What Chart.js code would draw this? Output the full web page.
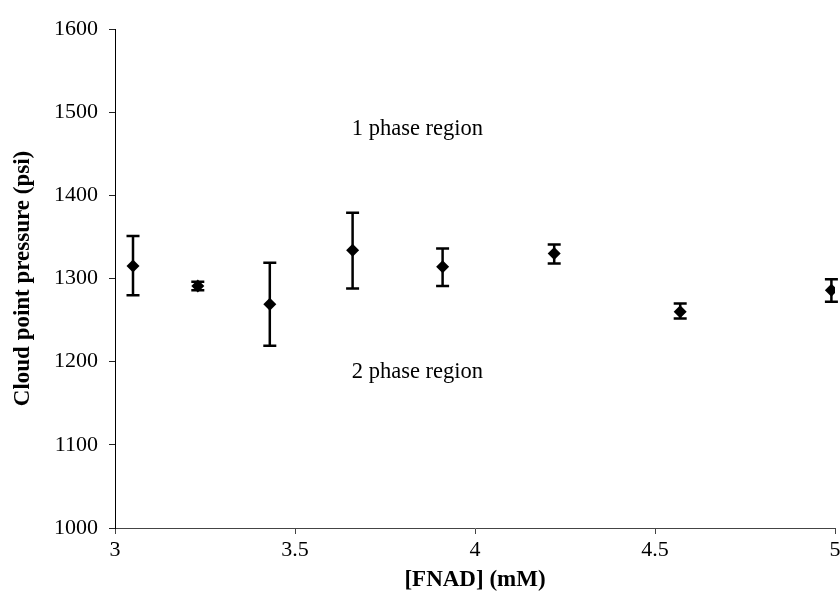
<!DOCTYPE html>
<html>
<head>
<meta charset="utf-8">
<script src="https://cdn.jsdelivr.net/npm/chart.js@4.4.0/dist/chart.umd.min.js"></script>
<style>
    html, body { margin: 0; padding: 0; background: #fff; overflow: hidden; }
    canvas { display: block; }
</style>
</head>
<body>
<canvas id="cloudChart" width="845" height="607"></canvas>
<script>
// FNAD concentration (mM) and cloud point pressure (psi)
const fnad = [3.05, 3.23, 3.43, 3.66, 3.91, 4.22, 4.57, 4.99];
const pressure = [1315, 1291, 1269, 1334, 1314, 1330, 1260, 1286];
const errLow = [1280, 1286, 1219, 1288, 1291, 1318, 1252, 1272];
const errHigh = [1351, 1296, 1319, 1379, 1336, 1341, 1270, 1299];

const xTicks = [3, 3.5, 4, 4.5, 5];
const yTicks = [1000, 1100, 1200, 1300, 1400, 1500, 1600];

// region annotations (text, position in data units)
const regionText = ['1 phase region', '2 phase region'];
const regionX = [3.84, 3.84];
const regionY = [1480, 1188];

const serif = '"Liberation Serif", "Times New Roman", serif';

// error bars + region labels, drawn through the chart scales
const errorBarPlugin = {
    id: 'errorBars',
    afterDatasetsDraw(chart) {
        const ctx = chart.ctx;
        const xs = chart.scales.x;
        const ys = chart.scales.y;
        ctx.save();
        ctx.strokeStyle = '#000';
        ctx.lineWidth = 2.5;
        fnad.forEach((v, i) => {
            const px = xs.getPixelForValue(v);
            const top = ys.getPixelForValue(errHigh[i]);
            const bot = ys.getPixelForValue(errLow[i]);
            ctx.beginPath();
            ctx.moveTo(px, top);
            ctx.lineTo(px, bot);
            ctx.moveTo(px - 6.5, top);
            ctx.lineTo(px + 6.5, top);
            ctx.moveTo(px - 6.5, bot);
            ctx.lineTo(px + 6.5, bot);
            ctx.stroke();
        });

        ctx.fillStyle = '#000';
        ctx.font = '22.5px ' + serif;
        ctx.textAlign = 'center';
        ctx.textBaseline = 'middle';
        regionText.forEach((t, i) => {
            ctx.fillText(t, xs.getPixelForValue(regionX[i]), ys.getPixelForValue(regionY[i]));
        });
        ctx.restore();
    }
};

new Chart(document.getElementById('cloudChart'), {
    type: 'scatter',
    data: {
        datasets: [{
            data: fnad.map((x, i) => ({ x: x, y: pressure[i] })),
            pointStyle: 'rectRot',
            pointRadius: 6.5,
            pointHoverRadius: 6.5,
            backgroundColor: '#000',
            borderColor: '#000',
            borderWidth: 0
        }]
    },
    options: {
        responsive: false,
        animation: false,
        layout: { padding: { left: 0, right: 10, top: 29, bottom: 0 } },
        plugins: {
            legend: { display: false },
            tooltip: { enabled: false }
        },
        scales: {
            x: {
                type: 'linear',
                min: 3,
                max: 5,
                afterBuildTicks: (axis) => { axis.ticks = xTicks.map(v => ({ value: v })); },
                afterFit: (axis) => { axis.height = 79; },
                grid: { drawOnChartArea: false, drawTicks: true, tickLength: 6, color: '#444' },
                border: { display: true, color: '#444', width: 1 },
                ticks: {
                    color: '#000',
                    padding: 3,
                    maxRotation: 0,
                    font: { family: serif, size: 22 },
                    callback: (v) => String(v)
                },
                title: {
                    display: true,
                    text: '[FNAD] (mM)',
                    color: '#000',
                    font: { family: serif, size: 23, weight: 'bold' },
                    padding: { top: 0, bottom: 13 }
                }
            },
            y: {
                min: 1000,
                max: 1600,
                afterBuildTicks: (axis) => { axis.ticks = yTicks.map(v => ({ value: v })); },
                afterFit: (axis) => { axis.width = 115; },
                grid: { drawOnChartArea: false, drawTicks: true, tickLength: 6, color: '#222' },
                border: { display: true, color: '#000', width: 1 },
                ticks: {
                    color: '#000',
                    padding: 11,
                    font: { family: serif, size: 22 },
                    callback: (v) => String(v)
                },
                title: {
                    display: true,
                    text: 'Cloud point pressure (psi)',
                    color: '#000',
                    font: { family: serif, size: 23, weight: 'bold' },
                    padding: { top: 9, bottom: 0 }
                }
            }
        }
    },
    plugins: [errorBarPlugin]
});
</script>
</body>
</html>
